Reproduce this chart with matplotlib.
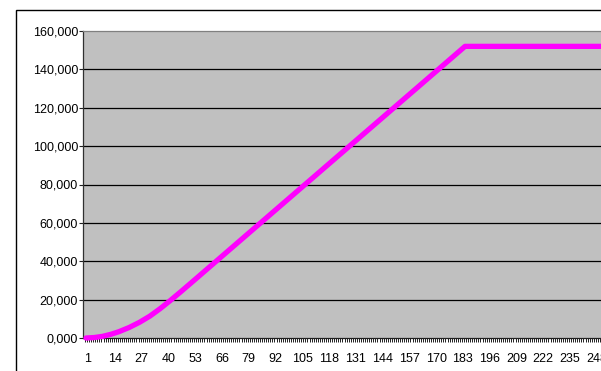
import matplotlib
matplotlib.use("Agg")
import matplotlib.pyplot as plt
from matplotlib.patches import Rectangle
from matplotlib.transforms import ScaledTranslation

plt.rcParams["font.family"] = ["Liberation Sans", "DejaVu Sans"]

# Category axis: day numbers 1..N
n_days = 270
label_step = 13

# Cumulative total, read at selected days (line passes straight between them)
sample_days = [1, 5, 9, 13, 17, 22, 27, 32, 37, 42, 47, 52, 185, 270]
sample_values = [0, 250, 850, 1900, 3300, 5500, 8200, 11400, 15300, 19600,
                 24100, 28700, 152000, 152000]

y_ticks = [0, 20000, 40000, 60000, 80000, 100000, 120000, 140000, 160000]
y_labels = ["0,000", "20,000", "40,000", "60,000", "80,000", "100,000",
            "120,000", "140,000", "160,000"]

W, H = 601, 371
dpi = 100
fig = plt.figure(figsize=(W / dpi, H / dpi), dpi=dpi)

# outer chart frame (runs past the right and bottom edges)
fig.patches.append(Rectangle((16 / W, -0.2), 2.0, (H - 10) / H + 0.2,
                             transform=fig.transFigure, fill=False,
                             edgecolor="black", linewidth=1.0, zorder=0))

px_per_day = 2.06
x_left = 1 - 3 / px_per_day
x_right = n_days + 0.5
ax_left_px, ax_top_px, ax_bottom_px = 83, 31, 338
ax_w_px = (x_right - x_left) * px_per_day
ax = fig.add_axes([ax_left_px / W, (H - ax_bottom_px) / H,
                   ax_w_px / W, (ax_bottom_px - ax_top_px) / H])
ax.set_facecolor("#C0C0C0")

for v in y_ticks[1:-1]:
    ax.axhline(v, color="black", linewidth=0.9, zorder=1)

ax.plot(sample_days, sample_values, color="#FF00FF", linewidth=3.8,
        solid_capstyle="round", solid_joinstyle="round", zorder=3,
        clip_on=False)

ax.set_xlim(x_left, x_right)
ax.set_ylim(y_ticks[0], y_ticks[-1])

ax.spines["right"].set_visible(False)
ax.spines["top"].set_color("#808080")
ax.spines["left"].set_color("#303030")
ax.spines["bottom"].set_color("#202020")
for s in ax.spines.values():
    s.set_linewidth(0.9)

ax.set_yticks(y_ticks)
ax.set_yticklabels(y_labels, fontsize=9)
ax.tick_params(axis="y", direction="out", length=3, width=0.8,
               color="#202020", pad=0.5)

label_days = list(range(1, n_days + 1, label_step))
ax.set_xticks(label_days)
ax.set_xticklabels([str(d) for d in label_days], fontsize=9)
ax.set_xticks([d + 0.5 for d in range(0, n_days + 1)], minor=True)
ax.tick_params(axis="x", which="major", length=0, pad=11)
ax.tick_params(axis="x", which="minor", direction="out", length=3.2,
               width=0.7, color="#202020")

shift = ScaledTranslation(2 / dpi, 0, fig.dpi_scale_trans)
for lbl in ax.get_xticklabels():
    lbl.set_transform(lbl.get_transform() + shift)

fig.savefig("out.png", dpi=dpi)
